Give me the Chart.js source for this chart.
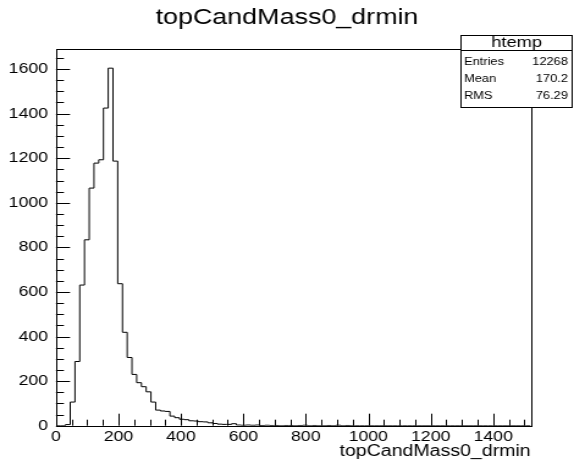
<!DOCTYPE html>
<html>
<head>
<meta charset="utf-8">
<style>
html, body { margin: 0; padding: 0; background: #fff; }
canvas { display: block; }
</style>
<script src="https://cdn.jsdelivr.net/npm/chart.js"></script>
</head>
<body>
<!-- drawn narrow and stretched sideways, like the ROOT picture -->
<canvas id="cntx_hist" width="470" height="461" style="width:574px;height:461px"></canvas>
<script>
const histTitle = "topCandMass0_drmin";
const xAxisTitle = "topCandMass0_drmin";
const xMin = 0;
const xMax = 1520;
const yMax = 1690;
const minorStep = 50;
const xTickValues = [0, 200, 400, 600, 800, 1000, 1200, 1400];
const yTickValues = [0, 200, 400, 600, 800, 1000, 1200, 1400, 1600];

// counts per bin, 100 bins from xMin to xMax
const binCounts = [
	0, 0, 5, 106, 288, 631, 834, 1066, 1178, 1193,
	1425, 1604, 1187, 637, 419, 306, 230, 193, 175, 152,
	106, 70, 66, 64, 43, 36, 29, 27, 22, 21,
	18, 17, 13, 10, 7, 6, 6, 9, 3, 2,
	3, 2, 3, 1, 2, 1, 1, 0, 1, 1,
	0, 1, 2, 0, 1, 0, 0, 1, 0, 2,
	0, 1, 0, 0, 0, 0, 0, 0, 0, 0,
	0, 0, 0, 0, 0, 0, 0, 0, 0, 0,
	0, 0, 0, 0, 0, 0, 0, 0, 0, 0,
	0, 0, 0, 0, 0, 0, 0, 0, 0, 0,
];

const statTitle = "htemp";
const statNames = ["Entries", "Mean", "RMS"];
const statValues = ["12268", "170.2", "76.29"];

const fontFamily = "'Liberation Sans', Arial, Helvetica, sans-serif";

const binWidth = (xMax - xMin) / binCounts.length;
const points = binCounts.map((c, i) => ({ x: xMin + i * binWidth, y: c }));
points.push({ x: xMax, y: binCounts[binCounts.length - 1] });

const rootFrame = {
	id: "rootFrame",
	afterDraw(chart) {
		const { ctx, chartArea: a, scales } = chart;
		const x = scales.x;
		const y = scales.y;
		ctx.save();
		ctx.strokeStyle = "#000";
		ctx.lineWidth = 1;

		// ticks inside the frame
		ctx.beginPath();
		for (let v = xMin; v <= xMax; v += minorStep) {
			const px = Math.round(x.getPixelForValue(v)) + 0.5;
			const len = xTickValues.includes(v) ? 12 : 6;
			ctx.moveTo(px, a.bottom);
			ctx.lineTo(px, a.bottom - len);
		}
		for (let v = 0; v <= yMax; v += minorStep) {
			const py = Math.round(y.getPixelForValue(v)) + 0.5;
			const len = yTickValues.includes(v) ? 11.5 : 6.5;
			ctx.moveTo(a.left, py);
			ctx.lineTo(a.left + len, py);
		}
		ctx.stroke();

		const l = Math.round(a.left) + 0.5;
		const t = Math.round(a.top) + 0.5;
		const r = Math.round(a.right) + 0.5;
		const b = Math.round(a.bottom) + 0.5;
		ctx.strokeRect(l, t, r - l, b - t);

		// stats box
		const bx = 377.5, by = 35.5, bw = 91, bh = 72;
		ctx.fillStyle = "#fff";
		ctx.fillRect(bx, by, bw, bh);
		ctx.strokeRect(bx, by, bw, bh);
		ctx.beginPath();
		ctx.moveTo(bx, by + 15);
		ctx.lineTo(bx + bw, by + 15);
		ctx.stroke();

		ctx.fillStyle = "#000";
		ctx.textBaseline = "middle";
		ctx.textAlign = "center";
		ctx.font = "15px " + fontFamily;
		ctx.fillText(statTitle, bx + bw / 2, 43);
		ctx.font = "10.5px " + fontFamily;
		statNames.forEach((name, i) => {
			const ty = 62.5 + i * 16.7;
			ctx.textAlign = "left";
			ctx.fillText(name, 380, ty);
			ctx.textAlign = "right";
			ctx.fillText(statValues[i], 465, ty);
		});
		ctx.restore();
	},
};

const hist_cntx = document.querySelector("#cntx_hist");
const myChart = new Chart(hist_cntx, {
	type: "line",
	data: {
		datasets: [
			{
				label: histTitle,
				data: points,
				stepped: true,
				borderColor: "#000",
				borderWidth: 1,
				pointRadius: 0,
				fill: false,
			},
		],
	},
	options: {
		responsive: false,
		animation: false,
		layout: { padding: 0 },
		plugins: {
			legend: { display: false },
			tooltip: { enabled: false },
			title: {
				display: true,
				text: histTitle,
				color: "#000",
				font: { family: fontFamily, size: 22, weight: "normal" },
				padding: { top: 5, bottom: 17.6 },
			},
		},
		scales: {
			x: {
				type: "linear",
				min: xMin,
				max: xMax,
				afterBuildTicks: (s) => {
					s.ticks = xTickValues.map((v) => ({ value: v }));
				},
				afterFit: (s) => {
					s.height = 35.3;
				},
				ticks: {
					maxRotation: 0,
					autoSkip: false,
					padding: 3,
					color: "#000",
					font: { family: fontFamily, size: 14.5 },
					callback: (v) => String(v),
				},
				grid: { display: false, drawTicks: false },
				border: { display: false },
				title: {
					display: true,
					text: xAxisTitle,
					align: "end",
					color: "#000",
					font: { family: fontFamily, size: 16 },
					padding: { top: 0, bottom: 0 },
				},
			},
			y: {
				min: 0,
				max: yMax,
				afterBuildTicks: (s) => {
					s.ticks = yTickValues.map((v) => ({ value: v }));
				},
				afterFit: (s) => {
					s.width = 45.85;
				},
				ticks: {
					padding: 6.5,
					color: "#000",
					font: { family: fontFamily, size: 14.5 },
					callback: (v) => String(v),
				},
				grid: { display: false, drawTicks: false },
				border: { display: false },
			},
			// empty space on the right of the frame
			yRight: {
				position: "right",
				afterFit: (s) => {
					s.width = 35.5;
				},
				ticks: { display: false },
				grid: { display: false, drawTicks: false },
				border: { display: false },
			},
		},
	},
	plugins: [rootFrame],
});
</script>
</body>
</html>
